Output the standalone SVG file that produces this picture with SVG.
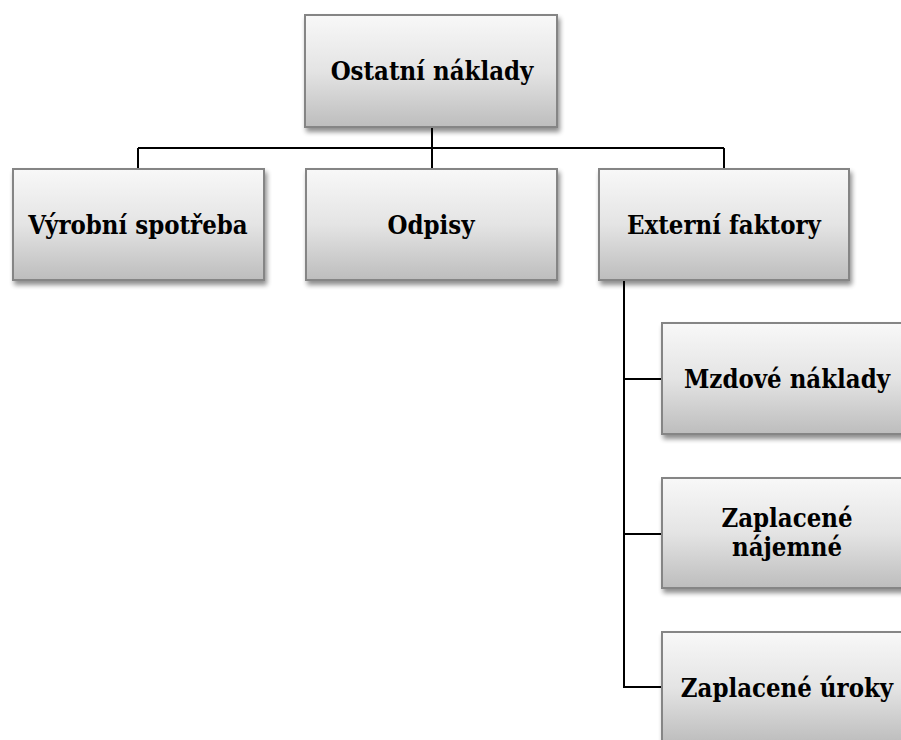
<svg xmlns="http://www.w3.org/2000/svg" width="901" height="740" viewBox="0 0 901 740">
  <defs>
    <linearGradient id="boxFill" x1="0" y1="0" x2="0" y2="1">
      <stop offset="0" stop-color="#f8f8f8"/>
      <stop offset="0.5" stop-color="#e4e4e4"/>
      <stop offset="1" stop-color="#bdbdbd"/>
    </linearGradient>
    <filter id="shadow" x="-10%" y="-10%" width="130%" height="140%">
      <feGaussianBlur in="SourceAlpha" stdDeviation="2.5"/>
      <feOffset dx="2" dy="4" result="b"/>
      <feComponentTransfer><feFuncA type="linear" slope="0.45"/></feComponentTransfer>
      <feMerge><feMergeNode/><feMergeNode in="SourceGraphic"/></feMerge>
    </filter>
  </defs>
  <style>
    .box { fill: url(#boxFill); stroke: #858585; stroke-width: 2; filter: url(#shadow); }
    .lbl { font-family: "DejaVu Serif Condensed", "DejaVu Serif", "Liberation Serif", serif; font-stretch: condensed; font-weight: bold; font-size: 25.5px; fill: #000; text-anchor: middle; }
    .wire { fill: none; stroke: #000; stroke-width: 2; }
  </style>
  <rect width="901" height="740" fill="#ffffff"/>

  <g id="connectors">
    <path class="wire" d="M432 127 V148 M138 148 H724 M138 148 V169 M432 148 V169 M724 148 V169"/>
    <path class="wire" d="M624 280 V687 H662 M624 379 H662 M624 534 H662"/>
  </g>

  <g id="ostatni-naklady">
    <rect class="box" x="305" y="15" width="252" height="112"/>
    <text class="lbl" x="432" y="80">Ostatní náklady</text>
  </g>
  <g id="vyrobni-spotreba">
    <rect class="box" x="13" y="169" width="251" height="111"/>
    <text class="lbl" x="138" y="234">Výrobní spotřeba</text>
  </g>
  <g id="odpisy">
    <rect class="box" x="306" y="169" width="251" height="111"/>
    <text class="lbl" x="431" y="234">Odpisy</text>
  </g>
  <g id="externi-faktory">
    <rect class="box" x="599" y="169" width="250" height="111"/>
    <text class="lbl" x="724" y="234">Externí faktory</text>
  </g>
  <g id="mzdove-naklady">
    <rect class="box" x="662" y="323" width="252" height="111"/>
    <text class="lbl" x="787" y="388">Mzdové náklady</text>
  </g>
  <g id="zaplacene-najemne">
    <rect class="box" x="662" y="478" width="252" height="110"/>
    <text class="lbl" x="787" y="527">Zaplacené</text>
    <text class="lbl" x="787" y="556">nájemné</text>
  </g>
  <g id="zaplacene-uroky">
    <rect class="box" x="662" y="632" width="252" height="111"/>
    <text class="lbl" x="787" y="697">Zaplacené úroky</text>
  </g>
</svg>
